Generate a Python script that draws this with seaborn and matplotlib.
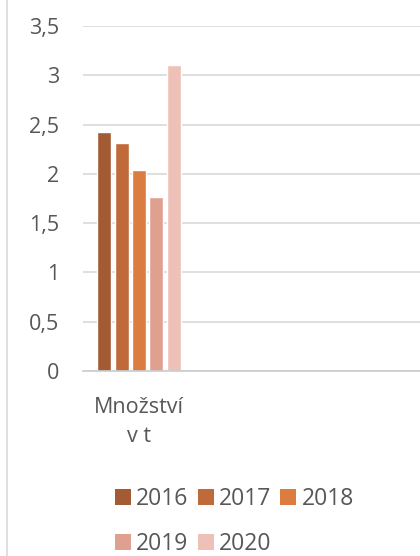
import matplotlib
matplotlib.use("Agg")
import matplotlib.pyplot as plt
import matplotlib.lines as mlines
from matplotlib.patches import Patch
from matplotlib.ticker import FuncFormatter
import seaborn as sns
import pandas as pd

categories = ["Množství\nv t"]
years = ["2016", "2017", "2018", "2019", "2020"]
values = [2.42, 2.31, 2.04, 1.77, 3.10]
colors = ["#A35B33", "#C06A3A", "#DB7D41", "#E0A090", "#EDC0B8"]
yticks = [0, 0.5, 1, 1.5, 2, 2.5, 3, 3.5]

sns.set_style("white")
plt.rcParams["font.family"] = ["Open Sans", "DejaVu Sans"]

FS = 15.5
LFS = 16.5
TXT = "#575757"

df = pd.DataFrame({
    "cat": [categories[0]] * len(years),
    "year": years,
    "value": values,
})

fig = plt.figure(figsize=(4.2, 5.56), dpi=100)
ax = fig.add_axes([83 / 420, 1 - 371 / 556, 1 - 83 / 420, (371 - 26) / 556])

sns.barplot(data=df, x="cat", y="value", hue="year", palette=colors,
            hue_order=years, width=0.8, gap=0.2, ax=ax, legend=False,
            saturation=1, errorbar=None)

ax.set_xlim(-0.514, 2.578)
ax.set_ylim(0, 3.5)
ax.set_yticks(yticks)
ax.yaxis.set_major_formatter(FuncFormatter(lambda v, p: f"{v:g}".replace(".", ",")))
ax.grid(axis="y", color="#D9D9D9", linewidth=1.2)
ax.set_axisbelow(True)
for s in ["top", "right", "left"]:
    ax.spines[s].set_visible(False)
ax.spines["bottom"].set_color("#C8CCD0")
ax.spines["bottom"].set_linewidth(1.2)
ax.set_xlabel("")
ax.set_ylabel("")
ax.tick_params(axis="y", length=0, pad=17, labelsize=FS, labelcolor=TXT)
ax.tick_params(axis="x", length=0, pad=19, labelsize=FS, labelcolor=TXT)
for t in ax.get_xticklabels():
    t.set_linespacing(1.47)

# chart border on the left
fig.add_artist(mlines.Line2D([6.5 / 420, 6.5 / 420], [0, 1], transform=fig.transFigure,
                             color="#D9D9D9", linewidth=1.2))

handles = [Patch(facecolor=c, edgecolor="none", label=y) for y, c in zip(years, colors)]
order = [0, 3, 1, 4, 2]
leg = fig.legend([handles[i] for i in order], [years[i] for i in order],
                 ncol=3, loc="upper left", bbox_to_anchor=(115 / 420, 1 - 487 / 556),
                 frameon=False, fontsize=LFS, labelcolor=TXT,
                 handlelength=0.7, handleheight=0.7, handletextpad=0.22,
                 columnspacing=0.4, labelspacing=0.92, borderpad=0, borderaxespad=0)

fig.savefig("out.png", dpi=100)
